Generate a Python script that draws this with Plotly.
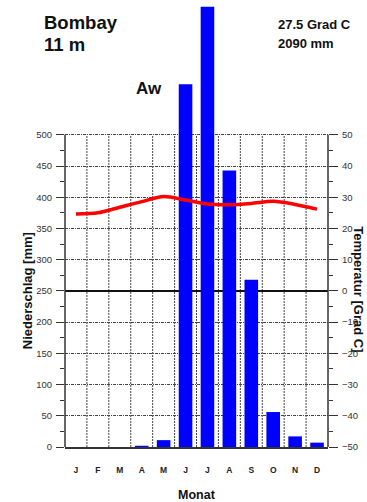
import plotly.graph_objects as go

months = ["J", "F", "M", "A", "M", "J", "J", "A", "S", "O", "N", "D"]
precip_mm = [0, 0, 0, 2, 11, 581, 705, 443, 268, 56, 17, 7]
temp_c = [24.6, 25.0, 26.8, 28.6, 30.2, 29.1, 27.8, 27.6, 28.0, 28.7, 27.7, 26.2]
precip_ticks = [0, 50, 100, 150, 200, 250, 300, 350, 400, 450, 500]
precip_minor = [25, 75, 125, 175, 225, 275, 325, 375, 425, 475]
temp_ticks = [-50, -40, -30, -20, -10, 0, 10, 20, 30, 40, 50]
temp_minor = [-45, -35, -25, -15, -5, 5, 15, 25, 35, 45]

station = "Bombay"
elevation = "11 m"
mean_temp = "27.5 Grad C"
total_precip = "2090 mm"
climate = "Aw"

x = list(range(1, 13))

W, H = 367, 502
L, R = 65, 327.7
TOP, BOT = 0, 446.7
pw, ph = R - L, BOT - TOP
ymax = 715.9  # mm at top of plot area
FONT = "Liberation Sans, Arial, sans-serif"
AX = "#333333"


def px(xp):
    return (xp - L) / pw


def py(yp):
    return (BOT - yp) / ph


fig = go.Figure()
fig.add_trace(go.Bar(
    x=x, y=precip_mm, width=0.62,
    marker=dict(color="#0000ff", line=dict(width=0)),
    yaxis="y", showlegend=False, hoverinfo="skip",
))
fig.add_trace(go.Scatter(
    x=x, y=temp_c, mode="lines", yaxis="y2",
    line=dict(color="#ff0000", width=3.5, shape="spline", smoothing=0.8),
    showlegend=False, hoverinfo="skip",
))

# vertical dotted gridlines at month boundaries (only up to 500 mm)
shapes = []
for i in range(1, 12):
    shapes.append(dict(type="line", xref="x", yref="y", x0=i + 0.5, x1=i + 0.5,
                       y0=0, y1=precip_ticks[-1], layer="below",
                       line=dict(color="#444444", width=1, dash="2px,1px")))
# axis lines (left & right) up to 500 mm
for xp in (0, 1):
    shapes.append(dict(type="line", xref="paper", yref="y", x0=xp, x1=xp,
                       y0=0, y1=precip_ticks[-1],
                       line=dict(color=AX, width=1.5)))

annotations = [
    dict(text=station, x=px(42), y=py(22), xanchor="left", yanchor="middle",
         font=dict(size=18.5, weight="bold", color="#111")),
    dict(text=elevation, x=px(42), y=py(44), xanchor="left", yanchor="middle",
         font=dict(size=18.5, weight="bold", color="#111")),
    dict(text=mean_temp, x=px(276), y=py(24), xanchor="left", yanchor="middle",
         font=dict(size=13, weight="bold", color="#111")),
    dict(text=total_precip, x=px(276), y=py(43.5), xanchor="left", yanchor="middle",
         font=dict(size=13, weight="bold", color="#111")),
    dict(text=climate, x=px(134), y=py(88.3), xanchor="left", yanchor="middle",
         font=dict(size=17, weight="bold", color="#111")),
    dict(text="Niederschlag [mm]", x=px(27), y=py(290), xanchor="center", yanchor="middle",
         textangle=-90, font=dict(size=13, weight="bold", color="#111")),
    dict(text="Temperatur [Grad C]", x=px(358.5), y=py(289), xanchor="center", yanchor="middle",
         textangle=90, font=dict(size=13, weight="bold", color="#111")),
    dict(text="Monat", x=px(197), y=py(494.5), xanchor="center", yanchor="middle",
         font=dict(size=12.5, weight="bold", color="#111")),
]
for a in annotations:
    a.update(xref="paper", yref="paper", showarrow=False)

fig.update_layout(
    width=W, height=H,
    margin=dict(l=L, r=W - R, t=TOP, b=H - BOT, pad=0),
    paper_bgcolor="white", plot_bgcolor="white",
    font=dict(family=FONT, color=AX),
    hovermode=False,
    xaxis=dict(
        range=[0.5, 12.5], tickmode="array", tickvals=x, ticktext=months,
        showgrid=False, zeroline=False, showline=True, linecolor=AX, linewidth=1.5,
        ticks="", ticklabelstandoff=14,
        tickfont=dict(size=8.5, weight="bold", color="#222"),
    ),
    yaxis=dict(
        range=[0, ymax], tickmode="array", tickvals=precip_ticks,
        showgrid=True, gridcolor="#444444", gridwidth=1, griddash="3px,1px,1px,1px",
        zeroline=False, showline=False,
        ticks="outside", ticklen=8, tickcolor=AX, tickwidth=1,
        minor=dict(tickmode="array", tickvals=precip_minor, ticks="outside",
                   ticklen=4, tickcolor=AX, showgrid=False),
        tickfont=dict(size=9.5, color="#333"), ticklabelstandoff=2,
    ),
    yaxis2=dict(
        overlaying="y", side="right",
        range=[-50, -50 + ymax / 5], tickmode="array", tickvals=temp_ticks,
        showgrid=False, zeroline=True, zerolinecolor="#111", zerolinewidth=1.2,
        showline=False,
        ticks="outside", ticklen=9, tickcolor=AX, tickwidth=1,
        minor=dict(tickmode="array", tickvals=temp_minor, ticks="outside",
                   ticklen=4, tickcolor=AX, showgrid=False),
        tickfont=dict(size=9.5, color="#333"), ticklabelstandoff=2,
    ),
    shapes=shapes,
    annotations=annotations,
)

fig.write_html(
    "out.html",
    config={"displayModeBar": False, "staticPlot": True},
    post_script="document.body.style.margin='0';document.body.style.overflow='hidden';",
)
